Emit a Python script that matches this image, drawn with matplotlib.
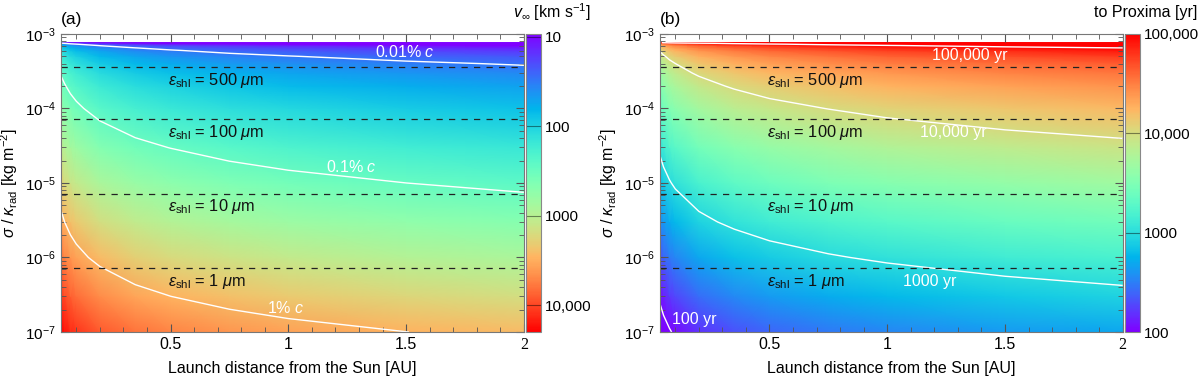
import numpy as np
import matplotlib
matplotlib.use('Agg')
import matplotlib.pyplot as plt
from matplotlib.colors import LogNorm
from matplotlib.ticker import MultipleLocator
from matplotlib.transforms import blended_transform_factory
from matplotlib.scale import InvertedLogTransform

plt.rcParams['font.family'] = ['Liberation Sans', 'DejaVu Sans']
plt.rcParams['mathtext.fontset'] = 'custom'
plt.rcParams['mathtext.rm'] = 'Liberation Sans'
plt.rcParams['mathtext.it'] = 'Liberation Sans:italic'
plt.rcParams['mathtext.bf'] = 'Liberation Sans:bold'

# grid
launch_au = [0.035, 0.05, 0.075, 0.1, 0.2, 0.35, 0.5, 0.75, 1.0, 1.5, 2.0]
sigma_kappa = [1e-7, 3e-7, 1e-6, 3e-6, 1e-5, 3e-5, 1e-4, 2e-4, 3e-4, 4e-4,
               5e-4, 6e-4, 6.5e-4, 7e-4, 7.3e-4, 7.5e-4, 7.65e-4]

# terminal velocity [km/s], rows = sigma_kappa, cols = launch_au
v_inf = [
    [19700, 16500, 13500, 11700, 8260, 6240, 5220, 4263, 3690, 3010, 2610],
    [11400, 9530, 7780, 6740, 4770, 3600, 3010, 2461, 2130, 1740, 1510],
    [6240, 5220, 4260, 3690, 2610, 1970, 1650, 1348, 1170, 953, 825],
    [3600, 3010, 2460, 2130, 1500, 1140, 951, 777, 673, 549, 476],
    [1960, 1640, 1340, 1160, 820, 620, 519, 424, 367, 300, 259],
    [1120, 935, 763, 661, 467, 353, 296, 241, 209, 171, 148],
    [582, 487, 398, 344, 244, 184, 154, 126, 109, 88.9, 77.0],
    [380, 318, 259, 225, 159, 120, 100, 82.0, 71.0, 58.0, 50.2],
    [281, 235, 192, 166, 118, 88.9, 74.4, 60.7, 52.6, 42.9, 37.2],
    [216, 181, 148, 128, 90.3, 68.3, 57.1, 46.6, 40.4, 33.0, 28.6],
    [165, 138, 112, 97.4, 68.9, 52.1, 43.6, 35.6, 30.8, 25.1, 21.8],
    [119, 99.7, 81.4, 70.5, 49.9, 37.7, 31.5, 25.7, 22.3, 18.2, 15.8],
    [95.9, 80.3, 65.5, 56.8, 40.1, 30.3, 25.4, 20.7, 18.0, 14.7, 12.7],
    [70.2, 58.7, 47.9, 41.5, 29.4, 22.2, 18.6, 15.2, 13.1, 10.7, 9.3],
    [51.4, 43.0, 35.1, 30.4, 21.5, 16.2, 13.6, 11.1, 9.6, 7.8, 6.8],
    [34.9, 29.2, 23.8, 20.6, 14.6, 11.0, 9.2, 7.5, 6.5, 5.3, 4.6],
    [14.1, 11.8, 9.6, 8.3, 5.9, 4.5, 3.7, 3.0, 2.6, 2.2, 1.9],
]

# travel time to Proxima [yr]
t_proxima = [
    [64.6, 77.1, 94.3, 109, 154, 204, 244, 299, 345, 423, 488],
    [112, 134, 164, 189, 267, 354, 423, 517, 598, 732, 843],
    [204, 244, 299, 345, 488, 646, 772, 944, 1088, 1336, 1543],
    [354, 423, 518, 598, 849, 1117, 1339, 1639, 1891, 2319, 2674],
    [650, 776, 950, 1097, 1552, 2053, 2453, 3006, 3469, 4243, 4915],
    [1137, 1361, 1668, 1926, 2726, 3606, 4301, 5276, 6091, 7444, 8601],
    [2187, 2614, 3198, 3701, 5217, 6918, 8266, 10100, 11700, 14300, 16500],
    [3350, 4003, 4915, 5658, 8006, 10600, 12700, 15500, 17900, 21900, 25400],
    [4530, 5417, 6630, 7669, 10800, 14300, 17100, 21000, 24200, 29700, 34200],
    [5894, 7033, 8601, 9945, 14100, 18600, 22300, 27300, 31500, 38600, 44500],
    [7715, 9225, 11400, 13100, 18500, 24400, 29200, 35800, 41300, 50700, 58400],
    [10700, 12800, 15600, 18100, 25500, 33800, 40400, 49500, 57100, 69900, 80600],
    [13300, 15900, 19400, 22400, 31700, 42000, 50100, 61500, 70700, 86600, 100000],
    [18100, 21700, 26600, 30700, 43300, 57300, 68400, 83800, 97200, 119000, 137000],
    [24800, 29600, 36300, 41900, 59200, 78600, 93600, 115000, 133000, 163000, 187000],
    [36500, 43600, 53500, 61800, 87200, 116000, 138000, 170000, 196000, 240000, 277000],
    [90300, 108000, 133000, 153000, 216000, 283000, 344000, 424000, 490000, 579000, 670000],
]

shell_sigma = [7.2e-7, 7.2e-6, 7.2e-5, 3.6e-4]
shell_um = ['1', '10', '100', '500']
shell_text_y = [4.8e-7, 4.9e-6, 4.8e-5, 2.4e-4]

v_levels = [29.98, 299.8, 2998]
v_labels = ['0.01% $c$', '0.1% $c$', '1% $c$']
v_label_xy = [(1.37, 5.7e-4), (1.16, 1.64e-5), (0.91, 2.1e-7)]

t_levels = [100, 1000, 10000, 100000]
t_labels = ['100 yr', '1000 yr', '10,000 yr', '100,000 yr']
t_label_xy = [(0.085, 1.45e-7), (1.065, 4.7e-7), (1.14, 4.7e-5), (1.19, 5.2e-4)]

cmap = plt.get_cmap('rainbow')

fig = plt.figure(figsize=(12, 3.81), dpi=100)
ax1 = fig.add_axes([0.0508, 0.1286, 0.3858, 0.7822])
cax1 = fig.add_axes([0.4383, 0.1286, 0.0125, 0.7822])
ax2 = fig.add_axes([0.5500, 0.1286, 0.3856, 0.7822])
cax2 = fig.add_axes([0.9375, 0.1286, 0.0125, 0.7822])


def draw_panel(ax, cax, values, norm, levels, labels, label_xy, tag):
    X, Y = np.meshgrid(launch_au, sigma_kappa)
    Z = np.array(values, dtype=float)
    mesh = ax.pcolormesh(X, Y, Z, norm=norm, cmap=cmap, shading='gouraud')
    ax.set_yscale('log')
    ax.set_xlim(0.035, 2.0)
    ax.set_ylim(1e-7, 1e-3)

    # contours traced in log-log space, mapped back onto the axes
    loglog = blended_transform_factory(InvertedLogTransform(10),
                                       InvertedLogTransform(10)) + ax.transData
    ax.contour(np.log10(X), np.log10(Y), np.log10(Z), levels=np.log10(levels),
               colors='white', linewidths=1.0, transform=loglog)
    for (lx, ly), lab in zip(label_xy, labels):
        ax.text(lx, ly, lab, color='white', fontsize=11.5, va='center', ha='left')

    for s, um, ty in zip(shell_sigma, shell_um, shell_text_y):
        ax.axhline(s, color='#222222', lw=0.9, dashes=(5, 5))
        ax.text(0.49, ty, r'$\varepsilon_{\rm shl}$ = ' + um + r' $\mu$m',
                fontsize=11.8, va='center', ha='left', color='#111111')

    ax.set_xticks([0.5, 1, 1.5, 2], ['0.5', '1', '1.5', '2'])
    ax.xaxis.set_minor_locator(MultipleLocator(0.1))
    ax.tick_params(which='both', direction='in', top=True, right=True,
                   color='#555555', labelsize=11.5)
    ax.tick_params(axis='y', labelsize=11)
    ax.tick_params(which='major', length=6)
    ax.tick_params(which='minor', length=3.5)
    for sp in ax.spines.values():
        sp.set_color('#777777')
    ax.set_xlabel('Launch distance from the Sun [AU]', fontsize=11.5, labelpad=6)
    ax.set_ylabel(r'$\sigma$ / $\kappa_{\rm rad}$ [kg m$^{-2}$]', fontsize=11.5, labelpad=4)
    ax.text(0.0, 1.025, tag, transform=ax.transAxes, fontsize=12.5, va='bottom', ha='left')

    cb = fig.colorbar(mesh, cax=cax)
    cb.outline.set_edgecolor('#888888')
    cax.minorticks_off()
    return cb


cb1 = draw_panel(ax1, cax1, v_inf, LogNorm(9.3, 20000), v_levels, v_labels, v_label_xy, '(a)')
cax1.invert_yaxis()
cb1.set_ticks([10, 100, 1000, 10000], labels=['10', '100', '1000', '10,000'])
for v in [10, 100, 1000, 10000]:
    cax1.axhline(v, color='black', lw=0.8, alpha=0.45)
cax1.tick_params(length=0, labelsize=11, pad=3)
fig.text(0.492, 0.968, r'$v_\infty$ [km s$^{-1}$]', fontsize=11.5, ha='right', va='center')

cb2 = draw_panel(ax2, cax2, t_proxima, LogNorm(100, 1e5), t_levels, t_labels, t_label_xy, '(b)')
cb2.set_ticks([100, 1000, 10000, 100000], labels=['100', '1000', '10,000', '100,000'])
for v in [100, 1000, 10000, 100000]:
    cax2.axhline(v, color='black', lw=0.8, alpha=0.45)
cax2.tick_params(length=0, labelsize=11, pad=3)
fig.text(0.9975, 0.968, 'to Proxima [yr]', fontsize=11.5, ha='right', va='center')

# the last x tick label is set in a serif face, as in the original
for ax in (ax1, ax2):
    ax.xaxis.get_major_ticks()[3].label1.set_fontfamily('Liberation Serif')
    ax.xaxis.get_major_ticks()[3].label1.set_fontsize(11.5)

fig.savefig('out.png', dpi=100)
